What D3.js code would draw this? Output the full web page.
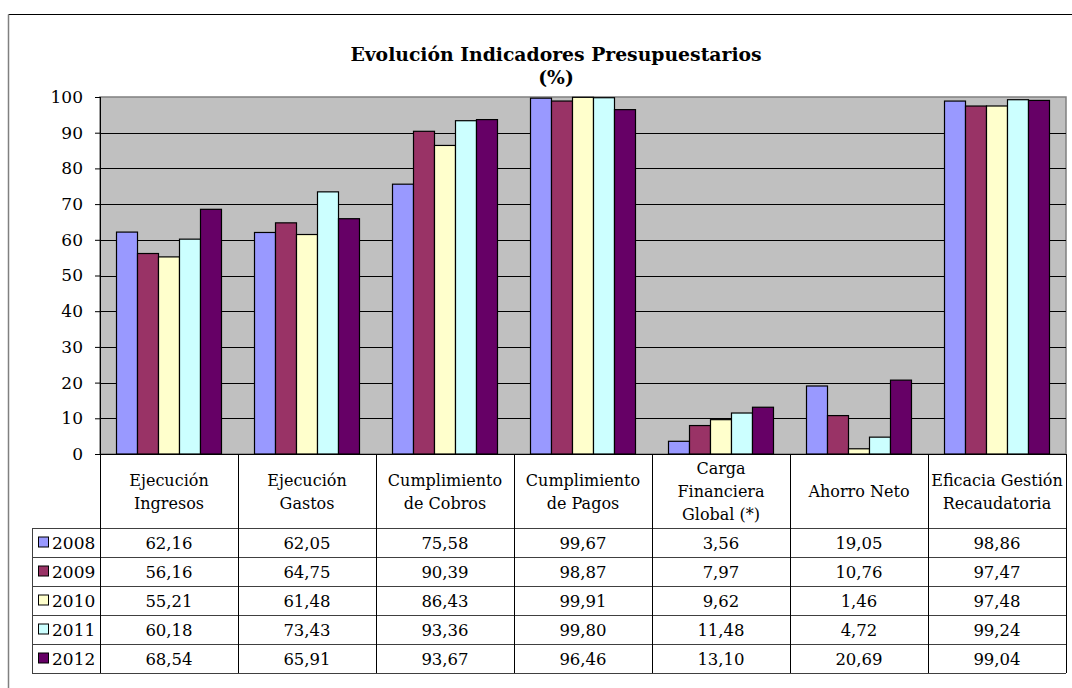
<!DOCTYPE html>
<html>
<head>
<meta charset="utf-8">
<script src="https://cdn.jsdelivr.net/npm/d3@7"></script>
<style>
  body { margin: 0; background: #fff; }
  svg text { font-family: "DejaVu Serif", serif; fill: #000; }
</style>
</head>
<body>
<div id="chart"></div>
<script>
// Categories (two/three line labels for the data table header)
let categories = [
  ["Ejecución", "Ingresos"],
  ["Ejecución", "Gastos"],
  ["Cumplimiento", "de Cobros"],
  ["Cumplimiento", "de Pagos"],
  ["Carga", "Financiera", "Global (*)"],
  ["Ahorro Neto"],
  ["Eficacia Gestión", "Recaudatoria"]
];
let years = ["2008", "2009", "2010", "2011", "2012"];
let colors = ["#9999FF", "#993366", "#FFFFCC", "#CCFFFF", "#660066"];

// One array per year, same order as categories
let v2008 = [62.16, 62.05, 75.58, 99.67, 3.56, 19.05, 98.86];
let v2009 = [56.16, 64.75, 90.39, 98.87, 7.97, 10.76, 97.47];
let v2010 = [55.21, 61.48, 86.43, 99.91, 9.62, 1.46, 97.48];
let v2011 = [60.18, 73.43, 93.36, 99.80, 11.48, 4.72, 99.24];
let v2012 = [68.54, 65.91, 93.67, 96.46, 13.10, 20.69, 99.04];
let series = [v2008, v2009, v2010, v2011, v2012];

let yTicks = [0, 10, 20, 30, 40, 50, 60, 70, 80, 90, 100];

let width = 1072, height = 688;
let plot = { left: 100, right: 1066, top: 97, bottom: 454 };
let table = { legendLeft: 32, headerBottom: 528, rowH: 29 };

let svg = d3.select("#chart").append("svg")
  .attr("width", width).attr("height", height);

// outer chart border (only top and left visible in the crop)
svg.append("line").attr("x1", 8.5).attr("x2", width).attr("y1", 14.5).attr("y2", 14.5)
  .attr("stroke", "#000");
svg.append("line").attr("x1", 8.5).attr("x2", 8.5).attr("y1", 14.5).attr("y2", height)
  .attr("stroke", "#808080").attr("stroke-width", 1.5);

// title
let title = svg.append("text")
  .attr("x", 556).attr("y", 61)
  .attr("text-anchor", "middle")
  .style("font-size", "18.8px").style("font-weight", "bold");
title.append("tspan").attr("x", 556).attr("dy", 0).text("Evolución Indicadores Presupuestarios");
title.append("tspan").attr("x", 556).attr("dy", 23).text("(%)");

// scales
let x = d3.scaleBand()
  .domain(d3.range(categories.length))
  .range([plot.left, plot.right]);

let xInner = d3.scaleBand()
  .domain(years)
  .range([0, x.bandwidth()])
  .paddingOuter(0.786);

let y = d3.scaleLinear()
  .domain([0, 100])
  .range([plot.bottom, plot.top]);

// plot background
svg.append("rect")
  .attr("x", plot.left).attr("y", plot.top)
  .attr("width", plot.right - plot.left).attr("height", plot.bottom - plot.top)
  .attr("fill", "#C0C0C0").attr("stroke", "#808080").attr("stroke-width", 1.5);

// gridlines
svg.append("g")
  .selectAll("line")
  .data(yTicks.filter(d => d > 0 && d < 100))
  .enter().append("line")
  .attr("x1", plot.left).attr("x2", plot.right)
  .attr("y1", d => Math.round(y(d)) + 0.5).attr("y2", d => Math.round(y(d)) + 0.5)
  .attr("stroke", "#000");

// bars
let groups = svg.append("g")
  .selectAll("g")
  .data(series)
  .enter().append("g")
  .attr("fill", (d, i) => colors[i]);

groups.selectAll("rect")
  .data((d, i) => d.map((v, j) => ({ v: v, cat: j, year: years[i] })))
  .enter().append("rect")
  .attr("x", d => x(d.cat) + xInner(d.year))
  .attr("y", d => y(d.v))
  .attr("width", xInner.bandwidth())
  .attr("height", d => y(0) - y(d.v))
  .attr("stroke", "#000").attr("stroke-width", 1.2);

// y axis
let yAxis = svg.append("g")
  .attr("transform", "translate(" + plot.left + ",0)")
  .call(d3.axisLeft(y).tickValues(yTicks).tickSize(5).tickPadding(12));
yAxis.select(".domain").remove();
yAxis.selectAll(".tick line").attr("stroke", "#000");
yAxis.selectAll(".tick text").style("font-size", "17px").attr("fill", "#000");
svg.append("line")
  .attr("x1", plot.left + 0.5).attr("x2", plot.left + 0.5)
  .attr("y1", plot.top).attr("y2", plot.bottom)
  .attr("stroke", "#000");

// data table
let tableBottom = table.headerBottom + table.rowH * years.length;
let tbl = svg.append("g");

// horizontal row lines
tbl.append("line")
  .attr("x1", plot.left).attr("x2", plot.right)
  .attr("y1", plot.bottom + 0.5).attr("y2", plot.bottom + 0.5)
  .attr("stroke", "#000");
tbl.selectAll(".hrow")
  .data(d3.range(years.length + 1))
  .enter().append("line")
  .attr("x1", table.legendLeft).attr("x2", plot.right)
  .attr("y1", i => table.headerBottom + i * table.rowH + 0.5)
  .attr("y2", i => table.headerBottom + i * table.rowH + 0.5)
  .attr("stroke", "#404040");

// vertical column lines
let colEdges = d3.range(categories.length + 1).map(i => i < categories.length ? x(i) : plot.right);
tbl.selectAll(".vcol")
  .data(colEdges)
  .enter().append("line")
  .attr("x1", d => Math.round(d) + 0.5).attr("x2", d => Math.round(d) + 0.5)
  .attr("y1", plot.bottom).attr("y2", tableBottom)
  .attr("stroke", "#000");
tbl.append("line")
  .attr("x1", table.legendLeft + 0.5).attr("x2", table.legendLeft + 0.5)
  .attr("y1", table.headerBottom).attr("y2", tableBottom)
  .attr("stroke", "#404040");

// header labels
let headerMid = (plot.bottom + table.headerBottom) / 2;
categories.forEach((lines, i) => {
  let cx = x(i) + x.bandwidth() / 2;
  let lh = 23;
  let t = tbl.append("text")
    .attr("text-anchor", "middle")
    .style("font-size", "16px");
  lines.forEach((ln, k) => {
    t.append("tspan")
      .attr("x", cx)
      .attr("y", headerMid + (k - (lines.length - 1) / 2) * lh + 6)
      .text(ln);
  });
});

// legend column + values
let fmt = v => v.toFixed(2).replace(".", ",");
years.forEach((yr, r) => {
  let cy = table.headerBottom + r * table.rowH + table.rowH / 2;
  tbl.append("rect")
    .attr("x", 38.5).attr("y", cy - 5.5)
    .attr("width", 10).attr("height", 10)
    .attr("fill", colors[r]).attr("stroke", "#000");
  tbl.append("text")
    .attr("x", 52).attr("y", cy + 6)
    .style("font-size", "17px")
    .text(yr);
  series[r].forEach((v, c) => {
    tbl.append("text")
      .attr("x", x(c) + x.bandwidth() / 2)
      .attr("y", cy + 6)
      .attr("text-anchor", "middle")
      .style("font-size", "16.5px")
      .text(fmt(v));
  });
});
</script>
</body>
</html>
